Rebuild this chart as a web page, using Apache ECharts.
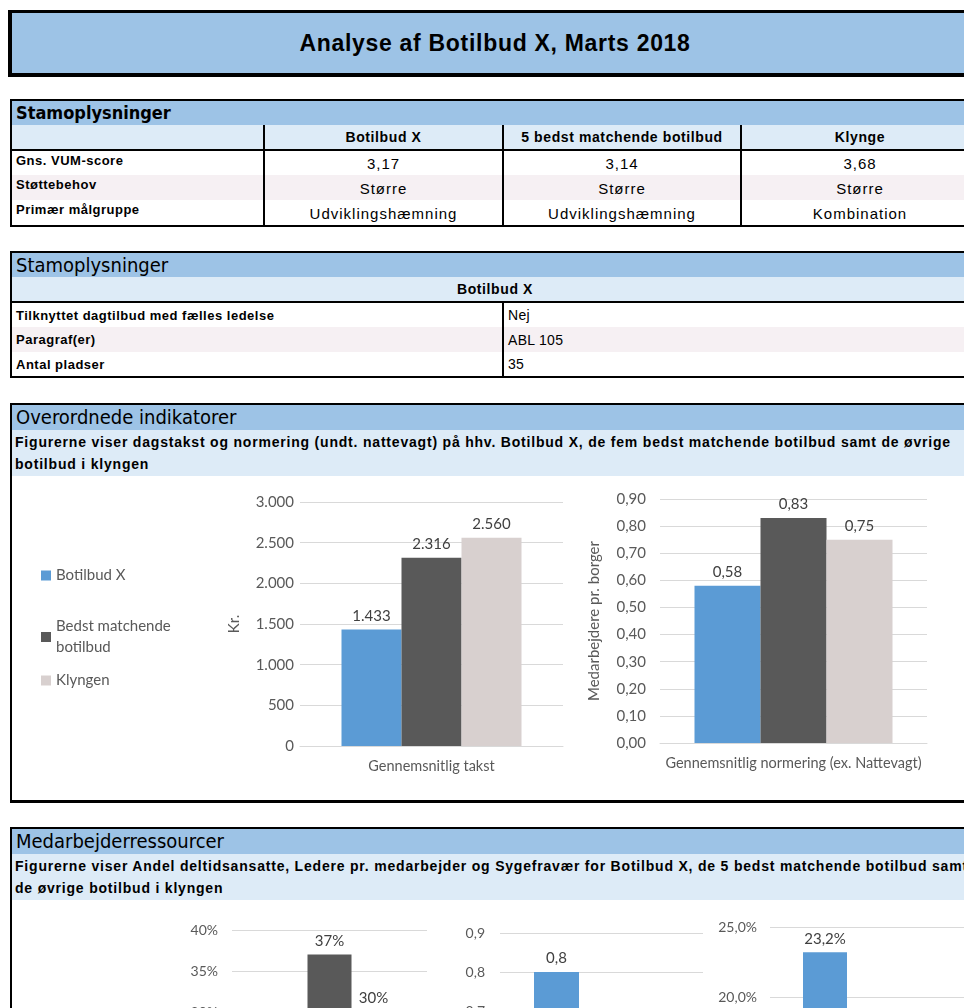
<!DOCTYPE html>
<html>
<head>
<meta charset="utf-8">
<script src="https://cdn.jsdelivr.net/npm/echarts@6/dist/echarts.min.js"></script>
<style>
  html, body { margin: 0; padding: 0; overflow: hidden; background: #fff; }
  body { width: 990px; height: 1008px; position: relative; font-family: 'Liberation Sans', Arial, sans-serif; color: #000; }
  .abs { position: absolute; }
  .titlebox { left: 8px; top: 10px; width: 974px; height: 67px; box-sizing: border-box; border: 4px solid #000; border-top-width: 3px;
    background: #9DC3E6; font: bold 23px 'Liberation Sans', Arial, sans-serif; letter-spacing: 0.7px; text-align: center; line-height: 60px; }
  .narrow { font-family: 'Liberation Sans Narrow', 'Arial Narrow', 'DejaVu Sans Condensed', sans-serif; }
  table { border-collapse: collapse; table-layout: fixed; }
  td { padding: 0; overflow: hidden; white-space: nowrap; }
  .t1 { left: 10px; top: 99px; width: 970px; border: 2px solid #000; }
  .hdr td { background: #9DC3E6; height: 24px; font-size: 20px; padding-left: 4px; line-height: 24px; }
  .colh td { background: #DDEBF7; height: 24px; font-weight: bold; font-size: 14px; letter-spacing: 0.6px; text-align: center; border-bottom: 2px solid #000; }
  .lab { font-weight: bold; font-size: 13px; letter-spacing: 0.5px; vertical-align: top; padding: 2px 0 0 4px; }
  .val { text-align: center; font-size: 15px; letter-spacing: 1px; vertical-align: middle; padding-top: 1px; }
  .vl { border-left: 2px solid #000; }
  .pink td { background: #F6F0F3; }
  .t2 { left: 10px; top: 251px; width: 970px; border: 2px solid #000; }
  .val2 { font-size: 14px; letter-spacing: 0.3px; padding-left: 4px; }
  .sect { left: 10px; width: 970px; box-sizing: border-box; border: 2px solid #000; border-bottom-width: 3px; border-right: none; }
  .shdr { background: #9DC3E6; height: 25px; line-height: 25px; font-size: 20px; padding-left: 4px; }
  .ssub { background: #DDEBF7; height: 46px; font-weight: bold; font-size: 14px; letter-spacing: 0.8px; line-height: 22px; padding-left: 3px; padding-top: 1px; box-sizing: border-box; white-space: nowrap; }
  .chart { position: absolute; }
</style>
</head>
<body>
<div class="abs titlebox">Analyse af Botilbud X, Marts 2018</div>

<table class="abs t1" id="t1"></table>
<table class="abs t2" id="t2"></table>

<div class="abs sect" style="top:403px;height:400px;">
  <div class="shdr narrow">Overordnede indikatorer</div>
  <div class="ssub">Figurerne viser dagstakst og normering (undt. nattevagt) på hhv. Botilbud X, de fem bedst matchende botilbud samt de øvrige<br>botilbud i klyngen</div>
</div>
<div class="abs sect" style="top:827px;height:500px;">
  <div class="shdr narrow">Medarbejderressourcer</div>
  <div class="ssub">Figurerne viser Andel deltidsansatte, Ledere pr. medarbejder og Sygefravær for Botilbud X, de 5 bedst matchende botilbud samt<br>de øvrige botilbud i klyngen</div>
</div>

<div class="chart" id="ec1" style="left:20px;top:478px;width:560px;height:310px;"></div>
<div class="chart" id="ec2" style="left:560px;top:478px;width:404px;height:310px;"></div>
<div class="chart" id="ec3" style="left:150px;top:900px;width:300px;height:400px;"></div>
<div class="chart" id="ec4" style="left:440px;top:900px;width:280px;height:400px;"></div>
<div class="chart" id="ec5" style="left:690px;top:900px;width:300px;height:400px;"></div>

<script>
// table data
const t1Cols = ['Botilbud X', '5 bedst matchende botilbud', 'Klynge']
const t1Rows = ['Gns. VUM-score', 'Støttebehov', 'Primær målgruppe']
const t1Vals = [
  ['3,17', '3,14', '3,68'],
  ['Større', 'Større', 'Større'],
  ['Udviklingshæmning', 'Udviklingshæmning', 'Kombination']
]
const t2Rows = ['Tilknyttet dagtilbud med fælles ledelse', 'Paragraf(er)', 'Antal pladser']
const t2Vals = ['Nej', 'ABL 105', '35']

// chart data
const seriesNames = ['Botilbud X', 'Bedst matchende botilbud', 'Klyngen']
const colors = ['#5B9BD5', '#595959', '#D8D0CF']
const taktCat = ['Gennemsnitlig takst']
const taktValues = [1433, 2316, 2560]
const normCat = ['Gennemsnitlig normering (ex. Nattevagt)']
const normValues = [0.58, 0.83, 0.75]
const deltidValues = [22, 37, 30]
const ledereValues = [0.8, 0.5, 0.6]
const sygeValues = [23.2, 12.5, 14.0]

// build tables
let h = '<colgroup><col style="width:253px"><col style="width:239px"><col style="width:238px"><col></colgroup>'
h += '<tr class="hdr"><td colspan="4" class="narrow" style="font-weight:bold;font-size:18px">Stamoplysninger</td></tr>'
h += '<tr class="colh"><td></td>' + t1Cols.map(c => '<td class="vl">' + c + '</td>').join('') + '</tr>'
t1Rows.forEach((r, i) => {
  const hh = i === 2 ? 26 : 25
  h += '<tr' + (i === 1 ? ' class="pink"' : '') + ' style="height:' + hh + 'px"><td class="lab">' + r + '</td>' +
    t1Vals[i].map(v => '<td class="val vl">' + v + '</td>').join('') + '</tr>'
})
document.getElementById('t1').innerHTML = h

h = '<colgroup><col style="width:492px"><col></colgroup>'
h += '<tr class="hdr"><td colspan="2" class="narrow">Stamoplysninger</td></tr>'
h += '<tr class="colh"><td colspan="2">Botilbud X</td></tr>'
t2Rows.forEach((r, i) => {
  h += '<tr' + (i === 1 ? ' class="pink"' : '') + ' style="height:25px"><td class="lab" style="vertical-align:middle;padding-top:0">' + r +
    '</td><td class="val2 vl">' + t2Vals[i] + '</td></tr>'
})
document.getElementById('t2').innerHTML = h

const FONT = 'Lato, "Open Sans", sans-serif'
const fmtDa = (v, d) => {
  const s = v.toFixed(d).split('.')
  s[0] = s[0].replace(/\B(?=(\d{3})+(?!\d))/g, '.')
  return s.join(',')
}

const barSeries = (vals, fmt, width) => seriesNames.map((n, i) => ({
  name: n,
  type: 'bar',
  barWidth: width,
  barGap: '0%',
  itemStyle: { color: colors[i] },
  label: {
    show: true, position: 'top', distance: 6, color: '#404040', fontFamily: FONT, fontSize: 15,
    formatter: p => fmt(p.value)
  },
  data: [vals[i]]
}))

const yAxisBase = (max, interval, fmt, name, gap, margin) => ({
  type: 'value', min: 0, max: max, interval: interval,
  name: name, nameLocation: 'middle', nameGap: gap, nameRotate: 90,
  nameTextStyle: { color: '#595959', fontFamily: FONT, fontSize: 15 },
  axisLine: { show: false }, axisTick: { show: false },
  axisLabel: { color: '#595959', fontFamily: FONT, fontSize: 15, margin: margin, formatter: fmt },
  splitLine: { lineStyle: { color: '#D9D9D9', width: 1 } }
})
const xAxisBase = cats => ({
  type: 'category', data: cats,
  axisLine: { lineStyle: { color: '#D9D9D9' } }, axisTick: { show: false },
  axisLabel: { color: '#595959', fontFamily: FONT, fontSize: 14.5, margin: 13 }
})

const legendItem = (name, top) => ({
  data: [name], orient: 'vertical', left: 21, top: top, padding: 0,
  icon: 'rect', itemWidth: 10, itemHeight: 10, itemGap: 0,
  textStyle: { color: '#595959', fontFamily: FONT, fontSize: 15, lineHeight: 21 },
  formatter: n => n === 'Bedst matchende botilbud' ? 'Bedst matchende\nbotilbud' : n,
  selectedMode: false
})

const EC1 = echarts.init(document.getElementById('ec1'))
EC1.setOption({
  animation: false,
  legend: [legendItem(seriesNames[0], 87), legendItem(seriesNames[1], 138), legendItem(seriesNames[2], 192)],
  grid: { left: 280, top: 24, width: 263, height: 244 },
  xAxis: xAxisBase(taktCat),
  yAxis: yAxisBase(3000, 500, v => fmtDa(v, 0), 'Kr.', 58, 6),
  series: barSeries(taktValues, v => fmtDa(v, 0), 60)
})

const EC2 = echarts.init(document.getElementById('ec2'))
EC2.setOption({
  animation: false,
  grid: { left: 100, top: 21, width: 267, height: 244 },
  xAxis: xAxisBase(normCat),
  yAxis: yAxisBase(0.9, 0.1, v => fmtDa(v, 2), 'Medarbejdere pr. borger', 58, 14),
  series: barSeries(normValues, v => fmtDa(v, 2), 66)
})

const smallY = (max, interval, fmt, margin) => {
  const y = yAxisBase(max, interval, fmt, '', 0, margin)
  y.axisLabel.fontSize = 14
  return y
}
const smallX = () => ({ type: 'category', data: [''], axisLine: { show: false }, axisTick: { show: false }, axisLabel: { show: false } })

const EC3 = echarts.init(document.getElementById('ec3'))
EC3.setOption({
  animation: false,
  grid: { left: 82, top: 30, width: 195, height: 328 },
  xAxis: smallX(),
  yAxis: smallY(40, 5, v => v + '%', 14),
  series: barSeries(deltidValues, v => Math.round(v) + '%', 44)
})

const EC4 = echarts.init(document.getElementById('ec4'))
EC4.setOption({
  animation: false,
  grid: { left: 60, top: 33, width: 203, height: 351 },
  xAxis: smallX(),
  yAxis: smallY(0.9, 0.1, v => fmtDa(v, 1), 15),
  series: barSeries(ledereValues, v => fmtDa(v, 1), 45)
})

const EC5 = echarts.init(document.getElementById('ec5'))
EC5.setOption({
  animation: false,
  grid: { left: 80, top: 27, width: 198, height: 350 },
  xAxis: smallX(),
  yAxis: smallY(25, 5, v => fmtDa(v, 1) + '%', 13),
  series: barSeries(sygeValues, v => fmtDa(v, 1) + '%', 44)
})
</script>
</body>
</html>
